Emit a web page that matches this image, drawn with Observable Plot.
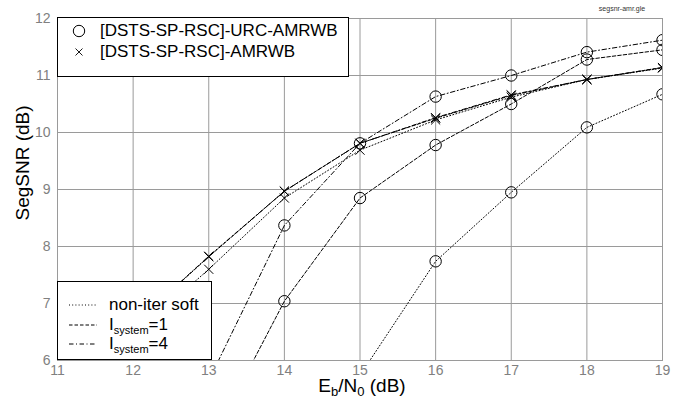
<!DOCTYPE html>
<html><head><meta charset="utf-8">
<script src="https://cdn.jsdelivr.net/npm/d3@7"></script>
<script src="https://cdn.jsdelivr.net/npm/@observablehq/plot@0.6"></script>
<style>
body{margin:0;background:#fff;font-family:"Liberation Sans",Arial,Helvetica,sans-serif;}
#wrap{position:relative;width:683px;height:403px;}
.leg{position:absolute;background:#fff;border:1px solid #000;box-sizing:border-box;}
.row{position:absolute;display:flex;align-items:center;white-space:nowrap;color:#000;}
sub{font-size:11px;vertical-align:-4px;line-height:0;}
</style>
</head><body>
<div id="wrap"></div>
<script>
// ---- data ----
const ebn0 = [12, 13, 14, 15, 16, 17, 18, 19];
const xTicks = [11, 12, 13, 14, 15, 16, 17, 18, 19];
const yTicks = [6, 7, 8, 9, 10, 11, 12];
// [DSTS-SP-RSC]-URC-AMRWB (circles)
const urcNonIter = [null, null, null, 5.74, 7.74, 8.95, 10.09, 10.67];
const urcIter1   = [null, 4.5, 7.04, 8.85, 9.78, 10.50, 11.28, 11.45];
const urcIter4   = [null, 5.65, 8.37, 9.81, 10.63, 11.0, 11.41, 11.62];
// [DSTS-SP-RSC]-AMRWB (crosses)
const amrNonIter = [6.43, 7.60, 8.85, 9.69, 10.22, 10.62, 10.93, 11.13];
const amrIter1   = [6.62, 7.82, 8.97, 9.81, 10.25, 10.65, 10.93, 11.14];
const amrIter4   = [6.62, 7.83, 8.97, 9.81, 10.26, 10.66, 10.93, 11.14];

const dashes = {nonIter: "1,2.2", iter1: "3.5,2", iter4: "4.5,2.5,1,2.5"};
const series = [
  {vals: urcNonIter, dash: dashes.nonIter, sym: "circle"},
  {vals: urcIter1, dash: dashes.iter1, sym: "circle"},
  {vals: urcIter4, dash: dashes.iter4, sym: "circle"},
  {vals: amrNonIter, dash: dashes.nonIter, sym: "times"},
  {vals: amrIter1, dash: dashes.iter1, sym: "times"},
  {vals: amrIter4, dash: dashes.iter4, sym: "times"}
];

const marks = [
  Plot.gridX(xTicks, {stroke: "#9a9a9a", strokeOpacity: 1, strokeWidth: 1}),
  Plot.gridY(yTicks, {stroke: "#9a9a9a", strokeOpacity: 1, strokeWidth: 1}),
  Plot.frame({stroke: "#9a9a9a"}),
  Plot.axisX(xTicks, {tickSize: 0, tickPadding: 5, fill: "#808080", fontSize: 14, label: null, tickFormat: d => String(d)}),
  Plot.axisY(yTicks, {tickSize: 0, tickPadding: 7, fill: "#808080", fontSize: 14, label: null, tickFormat: d => String(d)})
];
for (const s of series) {
  const d = ebn0.map((x, i) => ({x, y: s.vals[i]})).filter(p => p.y != null);
  marks.push(Plot.line(d, {x: "x", y: "y", stroke: "#000", strokeWidth: 1, strokeDasharray: s.dash, clip: true}));
  marks.push(Plot.dot(d, {x: "x", y: "y", symbol: s.sym, r: s.sym === "circle" ? 5.7 : 4.2, stroke: "#000", strokeWidth: 1, fill: "none", clip: true}));
}

const chart = Plot.plot({
  width: 683, height: 403,
  marginLeft: 57, marginRight: 21, marginTop: 18, marginBottom: 43,
  style: {fontFamily: '"Liberation Sans", Arial, Helvetica, sans-serif', background: "#fff"},
  x: {domain: [11, 19]},
  y: {domain: [6, 12]},
  marks
});
const wrap = document.getElementById("wrap");
wrap.appendChild(chart);

// axis titles and file tag
const svg = d3.select(chart);
svg.append("text").attr("transform", "translate(22,163) rotate(-90)")
  .attr("text-anchor", "middle").attr("dominant-baseline", "central")
  .attr("font-size", 19).attr("fill", "#000").text("SegSNR (dB)");
const xl = svg.append("text").attr("x", 362).attr("y", 392).attr("text-anchor", "middle")
  .attr("font-size", 19).attr("fill", "#000");
xl.append("tspan").text("E");
xl.append("tspan").attr("font-size", 13).attr("dy", 4).text("b");
xl.append("tspan").attr("dy", -4).text("/N");
xl.append("tspan").attr("font-size", 13).attr("dy", 4).text("0");
xl.append("tspan").attr("dy", -4).text(" (dB)");
svg.append("text").attr("x", 622).attr("y", 11).attr("text-anchor", "middle")
  .attr("font-size", 7).attr("fill", "#333").text("segsnr-amr.gle");

// legends
function symSvg(kind) {
  if (kind === "circle") return '<svg width="22" height="16"><circle cx="11" cy="8" r="5.7" fill="none" stroke="#000"/></svg>';
  if (kind === "times") return '<svg width="22" height="16"><path d="M7.5 4.5L14.5 11.5M14.5 4.5L7.5 11.5" stroke="#000" stroke-width="0.9"/></svg>';
  return '<svg width="28" height="10"><line x1="0" y1="5" x2="28" y2="5" stroke="#000" stroke-dasharray="' + kind + '"/></svg>';
}
const symLabels = ["[DSTS-SP-RSC]-URC-AMRWB", "[DSTS-SP-RSC]-AMRWB"];
const symKinds = ["circle", "times"];
const lg1 = document.createElement("div");
lg1.className = "leg";
Object.assign(lg1.style, {left: "57px", top: "17px", width: "292px", height: "60px"});
symLabels.forEach((t, i) => {
  const r = document.createElement("div");
  r.className = "row";
  Object.assign(r.style, {left: "10px", top: (13 + i * 21 - 8) + "px", height: "16px", fontSize: "17px"});
  r.innerHTML = symSvg(symKinds[i]) + '<span style="margin-left:10px">' + t + '</span>';
  lg1.appendChild(r);
});
wrap.appendChild(lg1);

const lineLabels = ["non-iter soft", "I<sub>system</sub>=1", "I<sub>system</sub>=4"];
const lineKinds = [dashes.nonIter, dashes.iter1, dashes.iter4];
const lg2 = document.createElement("div");
lg2.className = "leg";
Object.assign(lg2.style, {left: "57px", top: "281px", width: "155px", height: "79px"});
lineLabels.forEach((t, i) => {
  const r = document.createElement("div");
  r.className = "row";
  Object.assign(r.style, {left: "11px", top: (23 + i * 19.5 - 10) + "px", height: "20px", fontSize: "17px"});
  r.innerHTML = symSvg(lineKinds[i]) + '<span style="margin-left:12px">' + t + '</span>';
  lg2.appendChild(r);
});
wrap.appendChild(lg2);
</script>
</body></html>
